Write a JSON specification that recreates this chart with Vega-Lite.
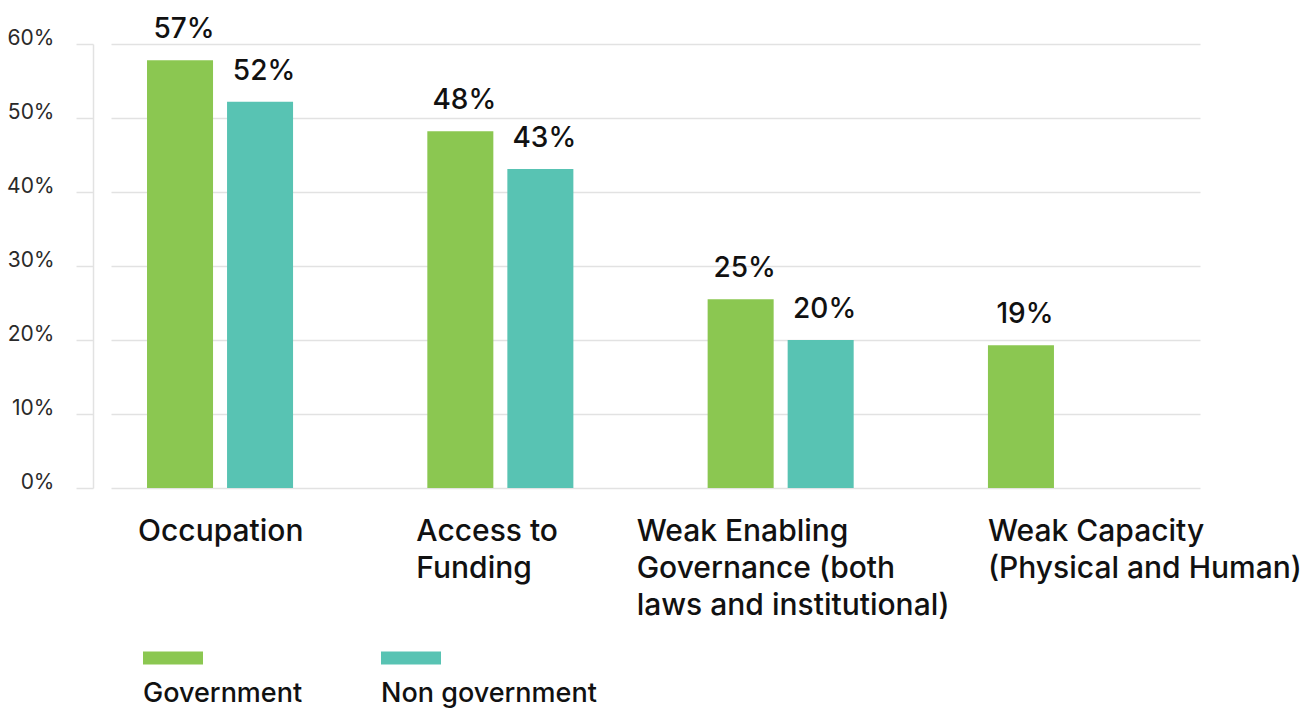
{
  "$schema": "https://vega.github.io/schema/vega-lite/v6.json",
  "width": 1089,
  "height": 444,
  "autosize": {"type": "none"},
  "padding": {"left": 111, "top": 44, "right": 116, "bottom": 220},
  "background": "white",
  "config": {
    "font": "Inter",
    "view": {"stroke": null}
  },
  "data": {
    "values": [
      {"category": "Occupation", "group": "Government", "value": 57.8, "label": "57%"},
      {"category": "Occupation", "group": "Non government", "value": 52.2, "label": "52%"},
      {"category": "Access to Funding", "group": "Government", "value": 48.2, "label": "48%"},
      {"category": "Access to Funding", "group": "Non government", "value": 43.1, "label": "43%"},
      {"category": "Weak Enabling Governance (both laws and  institutional)", "group": "Government", "value": 25.5, "label": "25%"},
      {"category": "Weak Enabling Governance (both laws and  institutional)", "group": "Non government", "value": 20.0, "label": "20%"},
      {"category": "Weak Capacity (Physical and Human)", "group": "Government", "value": 19.3, "label": "19%"}
    ]
  },
  "encoding": {
    "x": {
      "field": "category",
      "type": "nominal",
      "sort": null,
      "scale": {"paddingInner": 0.479, "paddingOuter": 0.182, "align": 0.353},
      "axis": {
        "title": null,
        "domain": false,
        "ticks": false,
        "labelAngle": 0,
        "labelAlign": "left",
        "labelBaseline": "top",
        "labelFontSize": 30,
        "labelFontWeight": 500,
        "labelColor": "#111111",
        "labelLineHeight": 37,
        "labelPadding": 28,
        "labelLimit": 0,
        "labelOverlap": false,
        "labelBound": false,
        "labelOffset": {
          "condition": [
            {"test": "datum.value == 'Weak Enabling Governance (both laws and  institutional)'", "value": -144},
            {"test": "datum.value == 'Weak Capacity (Physical and Human)'", "value": -73},
            {"test": "datum.value == 'Access to Funding'", "value": -84}
          ],
          "value": -82
        },
        "labelExpr": "datum.value == 'Access to Funding' ? ['Access to', 'Funding'] : datum.value == 'Weak Enabling Governance (both laws and  institutional)' ? ['Weak Enabling', 'Governance (both', 'laws and  institutional)'] : datum.value == 'Weak Capacity (Physical and Human)' ? ['Weak Capacity', '(Physical and Human)'] : datum.label"
      }
    },
    "xOffset": {
      "field": "group",
      "type": "nominal",
      "scale": {"domain": ["Government", "Non government"], "paddingInner": 0.175, "paddingOuter": 0}
    },
    "y": {
      "field": "value",
      "type": "quantitative",
      "scale": {"domain": [0, 60], "nice": false},
      "axis": {
        "title": null,
        "values": [0, 10, 20, 30, 40, 50, 60],
        "labelExpr": "datum.value + '%'",
        "offset": 18,
        "domainColor": "#e2e2e2",
        "domainWidth": 1.5,
        "tickColor": "#e2e2e2",
        "tickSize": 17,
        "tickWidth": 1.5,
        "gridColor": "#e2e2e2",
        "gridWidth": 1.5,
        "labelPadding": 22,
        "labelFontSize": 21,
        "labelColor": "#2a2a2a",
        "labelBaseline": "alphabetic"
      }
    }
  },
  "layer": [
    {
      "mark": {"type": "bar"},
      "encoding": {
        "color": {
          "field": "group",
          "type": "nominal",
          "scale": {"domain": ["Government", "Non government"], "range": ["#8BC751", "#58C3B3"]},
          "legend": {
            "title": null,
            "orient": "none",
            "legendX": 32,
            "legendY": 584,
            "direction": "horizontal",
            "padding": 0,
            "symbolType": "M-1,-0.217H1V0.217H-1Z",
            "symbolSize": 3600,
            "symbolStrokeWidth": 0,
            "symbolOpacity": 1,
            "labelOffset": -60,
            "labelFontSize": 27,
            "labelFontWeight": 500,
            "labelColor": "#111111",
            "labelBaseline": "alphabetic",
            "columnPadding": 78,
            "labelLimit": 0,
            "encode": {"labels": {"update": {"dy": {"value": 44}}}}
          }
        }
      }
    },
    {
      "mark": {"type": "text", "baseline": "alphabetic", "dy": -22, "dx": 4, "fontSize": 28, "fontWeight": 500, "color": "#111111"},
      "encoding": {
        "text": {"field": "label"}
      }
    }
  ]
}
